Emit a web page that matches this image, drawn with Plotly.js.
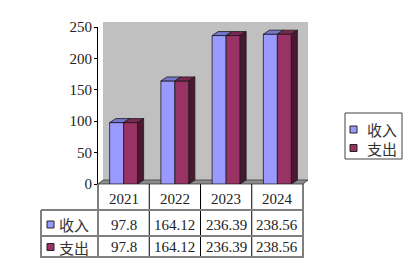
<!DOCTYPE html>
<html>
<head>
<meta charset="utf-8">
<script src="https://cdn.plot.ly/plotly-3.0.1.min.js"></script>
<style>html,body{margin:0;padding:0;background:#fff}#chart{width:412px;height:276px}</style>
</head>
<body>
<div id="chart"></div>
<script>
// ---- data ----
const YEARS = ['2021', '2022', '2023', '2024'];
const SERIES_NAMES = ['收入', '支出'];
const INCOME = [97.8, 164.12, 236.39, 238.56];
const EXPENSE = [97.8, 164.12, 236.39, 238.56];
const Y_TICKS = [0, 50, 100, 150, 200, 250];

// ---- layout constants ----
const FW = 412, FH = 276;
const ML = 98, MR = 109, MT = 27, MB = 92;
const PW = FW - ML - MR, PH = FH - MT - MB;
const YMAX = 250;
const xp = px => (px - ML) / PW;          // pixel -> paper x
const yp = py => (FH - MB - py) / PH;     // pixel -> paper y
const catPx = PW / YEARS.length;
const BW = 14 / catPx;                     // bar width in category units
const DX = 6 / catPx;                      // depth in x (category units)
const DY = 4 * YMAX / PH;                  // depth in y (data units)

const NUMF = 'Liberation Serif, DejaVu Serif, serif';
const CJK = 'Noto Sans CJK SC, sans-serif';
const TXT = '#222';
const C_IN = '#9999FF', C_IN_TOP = '#7676CC';
const C_EX = '#993366', C_EX_TOP = '#792852', C_EX_SIDE = '#4A1931';

const xs = YEARS.map(Number);

function topFaces(vals, off) {
  const X = [], Y = [];
  xs.forEach((x, i) => {
    const v = vals[i], a = x + off;
    X.push(a, a + BW, a + BW + DX, a + DX, a, null);
    Y.push(v, v, v + DY, v + DY, v, null);
  });
  return {X, Y};
}
function sideFaces(vals, off) {
  const X = [], Y = [];
  xs.forEach((x, i) => {
    const v = vals[i], a = x + off + BW;
    X.push(a, a + DX, a + DX, a, a, null);
    Y.push(0, DY, v + DY, v, 0, null);
  });
  return {X, Y};
}
function poly(f, color) {
  return {type: 'scatter', mode: 'lines', x: f.X, y: f.Y, fill: 'toself',
    fillcolor: color, line: {color: '#1a1a1a', width: 0.8}, hoverinfo: 'skip', showlegend: false};
}

const traces = [
  {type: 'bar', name: SERIES_NAMES[0], x: xs, y: INCOME, width: BW, offset: -BW,
   marker: {color: C_IN, line: {color: '#1a1a1a', width: 0.8}}, showlegend: false},
  {type: 'bar', name: SERIES_NAMES[1], x: xs, y: EXPENSE, width: BW, offset: 0,
   marker: {color: C_EX, line: {color: '#1a1a1a', width: 0.8}}, showlegend: false},
  poly(topFaces(INCOME, -BW), C_IN_TOP),
  poly(topFaces(EXPENSE, 0), C_EX_TOP),
  poly(sideFaces(EXPENSE, 0), C_EX_SIDE)
];

// ---- shapes: wall, floor, table grid, legend ----
const shapes = [];
shapes.push({type: 'rect', xref: 'paper', yref: 'paper', layer: 'below',
  x0: xp(103), x1: xp(308), y0: yp(180), y1: yp(22), fillcolor: '#C0C0C0', line: {width: 0}});
shapes.push({type: 'path', xref: 'paper', yref: 'paper', layer: 'below',
  path: `M${xp(98)},${yp(184)} L${xp(303)},${yp(184)} L${xp(308)},${yp(180)} L${xp(103)},${yp(180)} Z`,
  fillcolor: '#8C8C8C', line: {color: '#3a3a3a', width: 0.8}});

// table vertical lines
const TB_TOP = 184, TB_R1 = 210, TB_R2 = 236, TB_BOT = 257, TB_LEFT = 41;
for (let k = 0; k <= YEARS.length; k++) {
  const x = k / YEARS.length;
  shapes.push({type: 'line', xref: 'paper', yref: 'paper', x0: x, x1: x,
    y0: yp(TB_TOP), y1: yp(TB_BOT + 1), line: {color: '#000', width: 1}});
}
shapes.push({type: 'line', xref: 'paper', yref: 'paper', x0: xp(TB_LEFT), x1: xp(TB_LEFT),
  y0: yp(TB_R1), y1: yp(TB_BOT + 1), line: {color: '#000', width: 1}});
[TB_R1, TB_R2, TB_BOT].forEach(py => {
  shapes.push({type: 'line', xref: 'paper', yref: 'paper', x0: xp(TB_LEFT), x1: 1,
    y0: yp(py), y1: yp(py), line: {color: '#808080', width: 2}});
});
// table keys
const KEY_COLORS = [C_IN, C_EX];
[224.5, 247].forEach((cy, s) => {
  shapes.push({type: 'rect', xref: 'paper', yref: 'paper', x0: xp(47), x1: xp(54),
    y0: yp(cy + 3.5), y1: yp(cy - 3.5), fillcolor: KEY_COLORS[s], line: {color: '#222', width: 1}});
});
// legend
shapes.push({type: 'rect', xref: 'paper', yref: 'paper', x0: xp(345), x1: xp(402),
  y0: yp(159), y1: yp(113), fillcolor: '#fff', line: {color: '#404040', width: 1}});
[129.5, 148].forEach((cy, s) => {
  shapes.push({type: 'rect', xref: 'paper', yref: 'paper', x0: xp(350), x1: xp(357),
    y0: yp(cy + 3.5), y1: yp(cy - 3.5), fillcolor: KEY_COLORS[s], line: {color: '#222', width: 1}});
});

// ---- annotations: table text and legend text ----
const ann = [];
const NF = {family: NUMF, size: 15, color: TXT};
YEARS.forEach((yr, i) => {
  ann.push({xref: 'x', yref: 'paper', x: xs[i], y: yp(198.5), text: yr, showarrow: false,
    xanchor: 'center', yanchor: 'middle', font: NF});
  ann.push({xref: 'x', yref: 'paper', x: xs[i], y: yp(225), text: String(INCOME[i]), showarrow: false,
    xanchor: 'center', yanchor: 'middle', font: NF});
  ann.push({xref: 'x', yref: 'paper', x: xs[i], y: yp(247), text: String(EXPENSE[i]), showarrow: false,
    xanchor: 'center', yanchor: 'middle', font: NF});
});
[224.5, 247].forEach((cy, s) => {
  ann.push({xref: 'paper', yref: 'paper', x: xp(57), y: yp(cy), text: SERIES_NAMES[s], showarrow: false,
    xanchor: 'left', yanchor: 'middle', font: {family: CJK, size: 15, color: '#333'}});
});
[129.5, 148].forEach((cy, s) => {
  ann.push({xref: 'paper', yref: 'paper', x: xp(365), y: yp(cy), text: SERIES_NAMES[s], showarrow: false,
    xanchor: 'left', yanchor: 'middle', font: {family: CJK, size: 15, color: '#333'}});
});

const layout = {
  width: FW, height: FH,
  margin: {l: ML, r: MR, t: MT, b: MB, pad: 0},
  paper_bgcolor: '#fff', plot_bgcolor: 'rgba(0,0,0,0)',
  barmode: 'overlay', showlegend: false,
  xaxis: {type: 'linear', range: [xs[0] - 0.5, xs[xs.length - 1] + 0.5], showgrid: false,
    zeroline: false, showline: false, showticklabels: false, ticks: '', fixedrange: true},
  yaxis: {range: [0, YMAX], tickvals: Y_TICKS, showgrid: false, zeroline: false,
    showline: true, linecolor: '#000', linewidth: 1, ticks: 'outside', ticklen: 3,
    tickcolor: '#000', tickfont: NF, ticklabelstandoff: -1, fixedrange: true},
  shapes: shapes, annotations: ann
};

Plotly.newPlot('chart', traces, layout, {displayModeBar: false, staticPlot: true});
</script>
</body>
</html>
